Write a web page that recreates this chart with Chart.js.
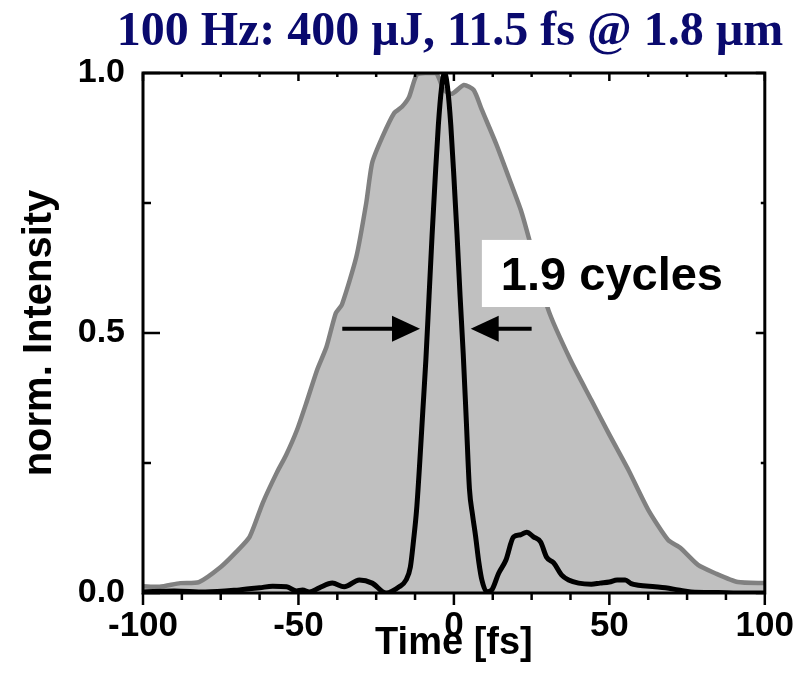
<!DOCTYPE html>
<html>
<head>
<meta charset="utf-8">
<script src="https://cdn.jsdelivr.net/npm/chart.js@4.4.1/dist/chart.umd.min.js"></script>
<style>
  html, body { margin: 0; padding: 0; background: #fff; }
  #wrap { width: 810px; height: 681px; }
</style>
</head>
<body>
<div id="wrap"><canvas id="pulse-chart" width="810" height="681"></canvas></div>
<script>
// gray: broad (uncompressed) pulse
const grayTime = [-100, -94.6, -88, -82, -75, -70, -65.7, -61.5, -57, -54, -50.5, -47.5, -44, -41, -38, -36,
  -31.4, -28.2, -26.3, -23, -19.2, -16.7, -14.4, -12, -9, -5.8, -4.8, -3.2, -0.6, 3.2, 6.4, 9, 13.5, 17.6,
  21.5, 24, 30.4, 37.5, 44.2, 49.7, 56.1, 62.5, 68.9, 72.8, 78.5, 84, 91.3, 100];
const grayIntensity = [0.013, 0.012, 0.019, 0.021, 0.05, 0.079, 0.108, 0.173, 0.231, 0.265, 0.313, 0.365, 0.429, 0.473, 0.538, 0.555,
  0.646, 0.75, 0.827, 0.877, 0.923, 0.935, 0.954, 0.996, 1.0, 1.0, 0.99, 0.967, 0.96, 0.977, 0.967, 0.929, 0.865, 0.8,
  0.737, 0.685, 0.544, 0.448, 0.371, 0.308, 0.237, 0.16, 0.102, 0.087, 0.054, 0.038, 0.021, 0.019];

// black: compressed 11.5 fs pulse
const blackTime = [-100, -90, -80, -69, -62.5, -58.3, -53.8, -50.6, -48.7, -46.5, -43.3, -39.1, -35.3, -30.4, -26.3, -21.8,
  -17.6, -15.4, -14, -13, -12, -11, -10, -9, -8, -7, -6, -5, -4, -3, -2, -1, 0, 1, 2, 3, 4, 5, 6, 7, 8, 9,
  10.6, 12.2, 14.4, 16.7, 19.2, 21.5, 23.4, 25.6, 27.9, 29.8, 32.1, 34.6, 36.9, 40.1, 44.2, 47, 50, 52.5, 55.1,
  57, 59.3, 64.7, 68, 72.1, 76.3, 85, 91.3, 100];
const blackIntensity = [0.002, 0.004, 0.002, 0.006, 0.01, 0.013, 0.012, 0.004, 0.006, 0.002, 0.01, 0.019, 0.012, 0.025, 0.019, 0.0,
  0.012, 0.025, 0.05, 0.1, 0.16, 0.25, 0.35, 0.45, 0.57, 0.69, 0.8, 0.9, 0.97, 1.0, 0.97, 0.9, 0.8, 0.69, 0.57, 0.46, 0.33, 0.2, 0.15, 0.108, 0.06, 0.025,
  0.002, 0.006, 0.038, 0.063, 0.108, 0.112, 0.117, 0.108, 0.098, 0.069, 0.058, 0.035, 0.025, 0.019, 0.017, 0.019, 0.021, 0.025, 0.025,
  0.018, 0.015, 0.012, 0.01, 0.006, 0.002, 0.001, 0, 0];

const xTickValues = [-100, -50, 0, 50, 100];
const yTickValues = [0, 0.5, 1.0];

const chartTitle = '100 Hz: 400 \u00b5J, 11.5 fs @ 1.8 \u00b5m';
const xTitle = 'Time [fs]';
const yTitle = 'norm. Intensity';
const labelText = '1.9 cycles';

const SANS = "'Liberation Sans', Arial, sans-serif";
const SERIF = "'Liberation Serif', 'Times New Roman', serif";

function toPoints(xs, ys) {
  return xs.map((x, i) => ({ x: x, y: ys[i] }));
}

// title, frame, inward/outward ticks and the FWHM annotation
const decorPlugin = {
  id: 'decor',
  afterDatasetsDraw(chart) {
    const ctx = chart.ctx;
    const xs = chart.scales.x, ys = chart.scales.y;
    const area = chart.chartArea;
    ctx.save();

    // title (drawn here so it is not squeezed to the plot width)
    ctx.fillStyle = '#0a0a6e';
    ctx.font = 'bold 48px ' + SERIF;
    ctx.textAlign = 'center';
    ctx.textBaseline = 'alphabetic';
    ctx.fillText(chartTitle, 450, 45);

    // white label box + text
    const bx0 = xs.getPixelForValue(9), bx1 = xs.getPixelForValue(89);
    const by0 = ys.getPixelForValue(0.679), by1 = ys.getPixelForValue(0.55);
    ctx.fillStyle = '#fff';
    ctx.fillRect(bx0, by0, bx1 - bx0, by1 - by0);
    ctx.fillStyle = '#000';
    ctx.font = 'bold 47px ' + SANS;
    ctx.textAlign = 'left';
    ctx.fillText(labelText, xs.getPixelForValue(15.1), ys.getPixelForValue(0.583));

    // arrows
    const ay = ys.getPixelForValue(0.508);
    const arrow = (tail, tip) => {
      const x0 = xs.getPixelForValue(tail), x1 = xs.getPixelForValue(tip);
      const dir = Math.sign(x1 - x0);
      ctx.strokeStyle = '#000';
      ctx.lineWidth = 4;
      ctx.beginPath();
      ctx.moveTo(x0, ay);
      ctx.lineTo(x1 - dir * 20, ay);
      ctx.stroke();
      ctx.beginPath();
      ctx.moveTo(x1, ay);
      ctx.lineTo(x1 - dir * 28, ay - 13);
      ctx.lineTo(x1 - dir * 28, ay + 13);
      ctx.closePath();
      ctx.fill();
    };
    arrow(-35.9, -10.9);
    arrow(25, 5.4);

    // frame
    ctx.strokeStyle = '#000';
    ctx.lineWidth = 3;
    ctx.strokeRect(area.left, area.top, area.right - area.left, area.bottom - area.top);

    // ticks
    ctx.lineWidth = 2.5;
    ctx.beginPath();
    for (let v = -100; v <= 100; v += 12.5) {
      const px = xs.getPixelForValue(v);
      const major = v % 50 === 0;
      ctx.moveTo(px, area.bottom);
      ctx.lineTo(px, area.bottom + (major ? 12 : 7));
      ctx.moveTo(px, area.top);
      ctx.lineTo(px, area.top + (major ? 8 : 4));
    }
    for (let v = 0; v <= 1.0001; v += 0.25) {
      const py = ys.getPixelForValue(v);
      const major = Math.abs(v * 2 - Math.round(v * 2)) < 1e-6;
      ctx.moveTo(area.left, py);
      ctx.lineTo(area.left + (major ? 17 : 8), py);
      ctx.moveTo(area.right, py);
      ctx.lineTo(area.right - (major ? 9 : 4), py);
    }
    ctx.stroke();
    ctx.restore();
  }
};

const ctx = document.getElementById('pulse-chart');
new Chart(ctx, {
  type: 'line',
  data: {
    datasets: [
      {
        data: toPoints(blackTime, blackIntensity),
        borderColor: '#000',
        borderWidth: 5,
        pointRadius: 0,
        fill: false,
        cubicInterpolationMode: 'monotone',
        order: 0
      },
      {
        data: toPoints(grayTime, grayIntensity),
        borderColor: '#808080',
        backgroundColor: '#c0c0c0',
        borderWidth: 4.5,
        pointRadius: 0,
        fill: 'origin',
        tension: 0.2,
        order: 1
      }
    ]
  },
  options: {
    responsive: false,
    animation: false,
    devicePixelRatio: 1,
    layout: { padding: { left: 0, right: 43, top: 73, bottom: 0 } },
    plugins: {
      legend: { display: false },
      tooltip: { enabled: false },
      title: { display: false }
    },
    scales: {
      x: {
        type: 'linear',
        min: -100,
        max: 100,
        afterBuildTicks: s => { s.ticks = xTickValues.map(v => ({ value: v })); },
        afterFit: s => { s.height = 88; },
        ticks: {
          color: '#000',
          padding: 16,
          maxRotation: 0,
          autoSkip: false,
          font: { family: SANS, size: 35, weight: 'bold', lineHeight: 1 }
        },
        grid: { display: false, drawTicks: false },
        border: { display: false },
        title: {
          display: true,
          text: xTitle,
          color: '#000',
          font: { family: SANS, size: 38, weight: 'bold', lineHeight: 1 },
          padding: { top: 0, bottom: 18 }
        }
      },
      y: {
        type: 'linear',
        min: 0,
        max: 1,
        afterBuildTicks: s => { s.ticks = yTickValues.map(v => ({ value: v })); },
        afterFit: s => { s.width = 143; },
        ticks: {
          color: '#000',
          padding: 18,
          callback: v => v.toFixed(1),
          font: { family: SANS, size: 34, weight: 'bold', lineHeight: 1 }
        },
        grid: { display: false, drawTicks: false },
        border: { display: false },
        title: {
          display: true,
          text: yTitle,
          color: '#000',
          font: { family: SANS, size: 40, weight: 'bold', lineHeight: 1.2 },
          padding: { top: 16, bottom: 0 }
        }
      }
    }
  },
  plugins: [decorPlugin]
});
</script>
</body>
</html>
